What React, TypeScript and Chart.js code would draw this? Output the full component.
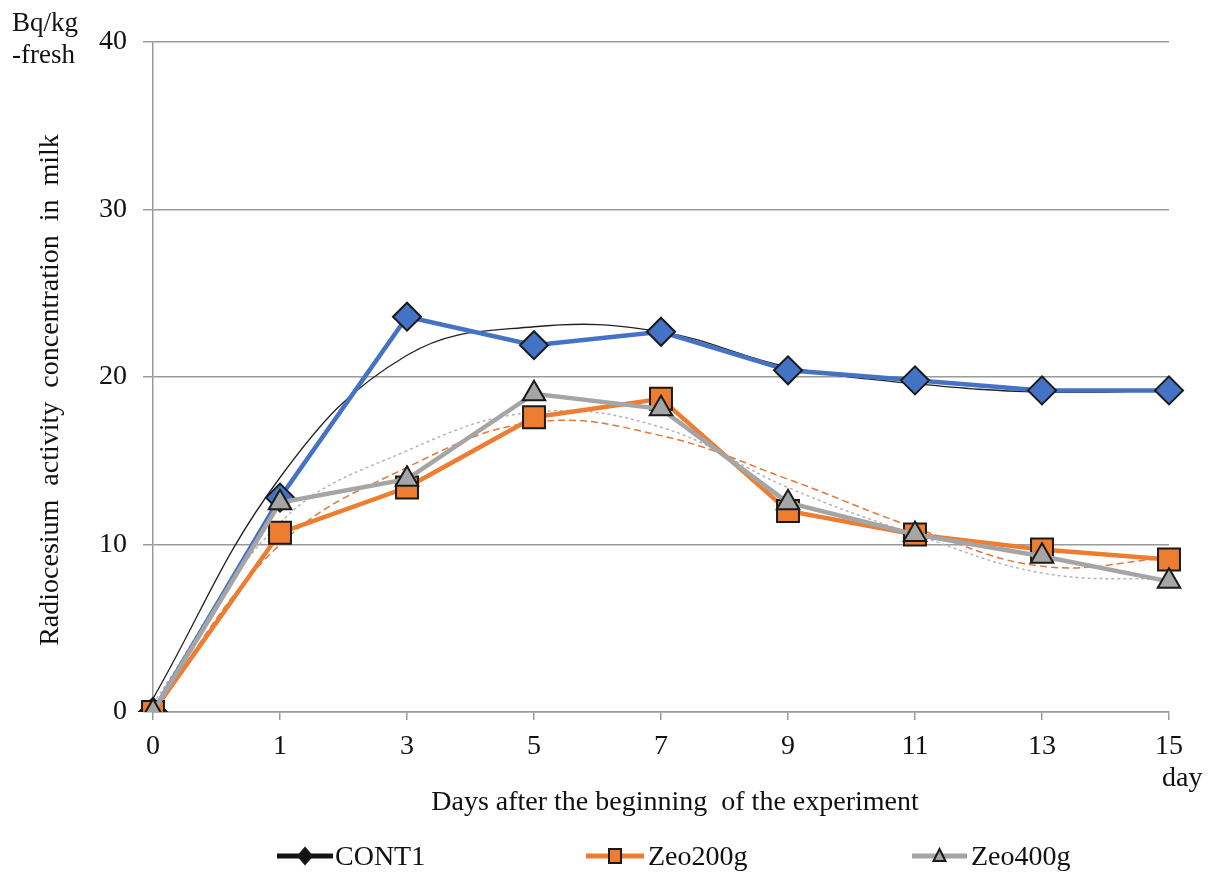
import React, { useEffect, useRef } from "react";
import { Chart, registerables } from "chart.js";

Chart.register(...registerables);

const days = ["0", "1", "3", "5", "7", "9", "11", "13", "15"];
const cont1 = [0, 12.8, 23.6, 21.9, 22.7, 20.4, 19.8, 19.2, 19.2];
const zeo200 = [0, 10.7, 13.4, 17.6, 18.7, 12.0, 10.6, 9.7, 9.1];
const zeo400 = [0, 12.5, 13.9, 19.0, 18.1, 12.5, 10.6, 9.3, 7.8];
const cont1Trend = [0.8, 14.0, 21.3, 23.0, 22.7, 20.6, 19.6, 19.1, 19.2];
const zeo200Trend = [0.2, 10.0, 14.6, 17.3, 16.5, 13.9, 11.0, 8.7, 9.2];
const zeo400Trend = [0.5, 11.3, 15.6, 17.9, 17.0, 13.4, 10.6, 8.3, 7.9];
const yTicks = [0, 10, 20, 30, 40];

const FONT = "'Liberation Serif', 'Times New Roman', serif";

const BLUE = "#4472C4";
const ORANGE = "#ED7D31";
const GRAY = "#A5A5A5";
const EDGE = "#1a1a1a";

const textPlugin = {
  id: "texts",
  afterDraw(chart: any) {
    const ctx = chart.ctx;
    ctx.save();
    ctx.fillStyle = "#111";
    ctx.font = `27px ${FONT}`;
    ctx.textAlign = "left";
    ctx.textBaseline = "alphabetic";
    ctx.fillText("Bq/kg", 12, 31);
    ctx.fillText("-fresh", 12, 63);
    ctx.font = `28px ${FONT}`;
    ctx.fillText("day", 1162, 786);
    ctx.textAlign = "center";
    ctx.fillText("Days after the beginning  of the experiment", 675, 810);
    ctx.save();
    ctx.translate(58, 390);
    ctx.rotate(-Math.PI / 2);
    ctx.fillText("Radiocesium  activity  concentration  in  milk", 0, 0);
    ctx.restore();

    // legend
    const items = [
      { x0: 277, x1: 333, tx: 335, label: "CONT1", line: "#111", fill: "#111", style: "diamond" },
      { x0: 586, x1: 644, tx: 648, label: "Zeo200g", line: ORANGE, fill: ORANGE, style: "square" },
      { x0: 912, x1: 967, tx: 971, label: "Zeo400g", line: GRAY, fill: GRAY, style: "triangle" },
    ];
    const ly = 856;
    for (const it of items) {
      ctx.strokeStyle = it.line;
      ctx.lineWidth = 5;
      ctx.beginPath();
      ctx.moveTo(it.x0, ly);
      ctx.lineTo(it.x1, ly);
      ctx.stroke();
      const cx = (it.x0 + it.x1) / 2;
      ctx.fillStyle = it.fill;
      ctx.strokeStyle = EDGE;
      ctx.lineWidth = 2;
      ctx.beginPath();
      if (it.style === "diamond") {
        ctx.moveTo(cx, ly - 8);
        ctx.lineTo(cx + 7, ly);
        ctx.lineTo(cx, ly + 8);
        ctx.lineTo(cx - 7, ly);
        ctx.closePath();
      } else if (it.style === "square") {
        ctx.rect(cx - 6, ly - 7, 12, 14);
      } else {
        ctx.moveTo(cx, ly - 7);
        ctx.lineTo(cx + 6, ly + 5);
        ctx.lineTo(cx - 6, ly + 5);
        ctx.closePath();
      }
      ctx.fill();
      ctx.stroke();
      ctx.fillStyle = "#111";
      ctx.textAlign = "left";
      ctx.font = `28px ${FONT}`;
      ctx.fillText(it.label, it.tx, ly + 9);
    }
    ctx.restore();
  },
};

export default function App() {
  const ref = useRef<HTMLCanvasElement | null>(null);
  useEffect(() => {
    document.body.style.margin = "0";
    const canvas = ref.current!;
    const chart = new Chart(canvas, {
      type: "line",
      data: {
        labels: days,
        datasets: [
          {
            label: "CONT1",
            data: cont1,
            borderColor: BLUE,
            backgroundColor: BLUE,
            borderWidth: 4.5,
            pointStyle: "rectRot",
            pointRadius: 14,
            pointBorderColor: EDGE,
            pointBorderWidth: 2,
            pointBackgroundColor: BLUE,
            tension: 0,
            order: 3,
          },
          {
            label: "Zeo200g",
            data: zeo200,
            borderColor: ORANGE,
            backgroundColor: ORANGE,
            borderWidth: 4.5,
            pointStyle: "rect",
            pointRadius: 15.5,
            pointBorderColor: EDGE,
            pointBorderWidth: 2,
            pointBackgroundColor: ORANGE,
            tension: 0,
            order: 2,
          },
          {
            label: "Zeo400g",
            data: zeo400,
            borderColor: GRAY,
            backgroundColor: GRAY,
            borderWidth: 4.5,
            pointStyle: "triangle",
            pointRadius: 13,
            pointBorderColor: EDGE,
            pointBorderWidth: 2,
            pointBackgroundColor: GRAY,
            tension: 0,
            order: 1,
          },
          {
            label: "CONT1 trend",
            data: cont1Trend,
            borderColor: "#222",
            borderWidth: 1.3,
            pointRadius: 0,
            tension: 0.4,
            order: 4,
          },
          {
            label: "Zeo200g trend",
            data: zeo200Trend,
            borderColor: "#E07A3A",
            borderWidth: 1.5,
            borderDash: [7, 4],
            pointRadius: 0,
            tension: 0.4,
            order: 5,
          },
          {
            label: "Zeo400g trend",
            data: zeo400Trend,
            borderColor: "#B5B5B5",
            borderWidth: 1.5,
            borderDash: [3, 3],
            pointRadius: 0,
            tension: 0.4,
            order: 6,
          },
        ],
      },
      options: {
        animation: false,
        responsive: false,
        layout: { padding: { left: 0, right: 47, top: 42, bottom: 0 } },
        plugins: { legend: { display: false }, tooltip: { enabled: false } },
        scales: {
          x: {
            offset: false,
            grid: { drawOnChartArea: false, drawTicks: true, tickLength: 8, color: "#9a9a9a", lineWidth: 1.5 },
            border: { display: true, color: "#9a9a9a", width: 1.5 },
            ticks: { color: "#111", font: { family: FONT, size: 28 }, padding: 10, maxRotation: 0, autoSkip: false },
            afterFit: (s: any) => { s.height = 162; },
          },
          y: {
            min: 0,
            max: 40,
            afterBuildTicks: (s: any) => { s.ticks = yTicks.map((v) => ({ value: v })); },
            grid: { color: "#9a9a9a", lineWidth: 1.5, tickLength: 10 },
            border: { display: true, color: "#9a9a9a", width: 1.5 },
            ticks: { color: "#111", font: { family: FONT, size: 28 }, padding: 16 },
            afterFit: (s: any) => { s.width = 153; },
          },
        },
      },
      plugins: [textPlugin],
    });
    return () => chart.destroy();
  }, []);
  return <canvas ref={ref} width={1216} height={874} style={{ display: "block" }} />;
}
